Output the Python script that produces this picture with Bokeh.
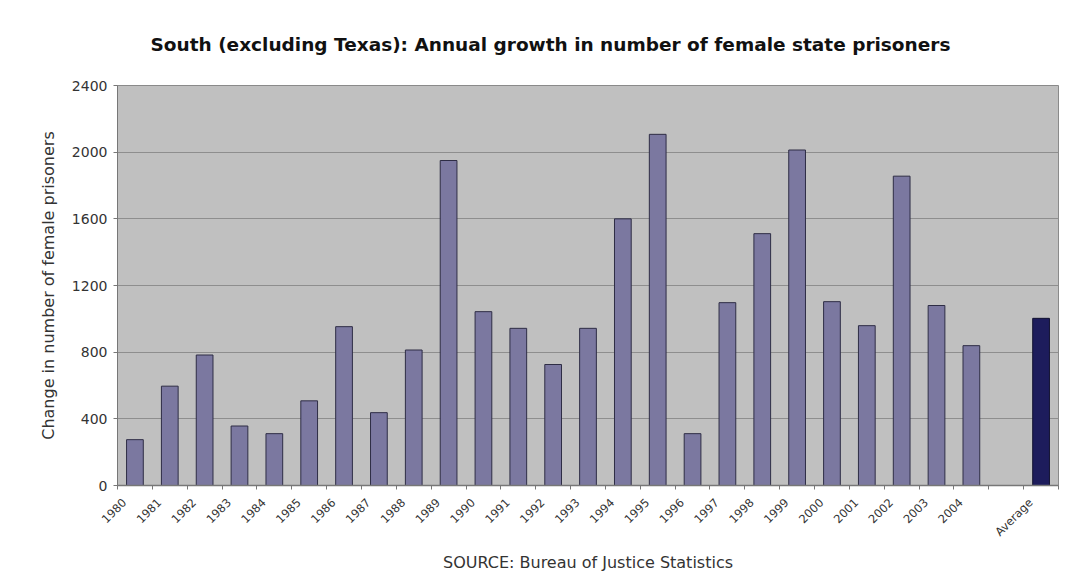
from bokeh.plotting import figure
from bokeh.models import FixedTicker, ColumnDataSource, Range1d, CustomJSTickFormatter
from bokeh.embed import file_html
from bokeh.resources import INLINE
import math

years = ["1980", "1981", "1982", "1983", "1984", "1985", "1986", "1987", "1988", "1989",
         "1990", "1991", "1992", "1993", "1994", "1995", "1996", "1997", "1998", "1999",
         "2000", "2001", "2002", "2003", "2004"]
growth = [275, 596, 783, 357, 311, 508, 953, 437, 813, 1950,
          1043, 943, 726, 943, 1600, 2107, 311, 1097, 1511, 2013,
          1103, 959, 1856, 1080, 839]
average_label = "Average"
average_value = 1003
y_ticks = [0, 400, 800, 1200, 1600, 2000, 2400]

categories = years + [""] + [average_label]
year_x = list(range(len(years)))
avg_x = [len(categories) - 1]
label_shift = 0.3  # rotated labels end slightly left of the category centre

FONT = "DejaVu Sans"

p = figure(width=1074, height=586, output_backend="svg", toolbar_location=None,
           x_range=Range1d(-0.5, len(categories) - 0.5), y_range=Range1d(0, 2400),
           min_border_left=117, min_border_right=16, min_border_top=85, min_border_bottom=101)

p.title.text = "South (excluding Texas): Annual growth in number of female state prisoners"
p.title.text_font = FONT
p.title.text_font_size = "18.5px"
p.title.text_font_style = "bold"
p.title.text_color = "#111111"
p.title.align = "left"
p.title.standoff = 61
p.title.offset = 33

p.background_fill_color = "#c0c0c0"
p.border_fill_color = "white"
p.outline_line_color = "#8a8a8a"
p.outline_line_width = 1

src = ColumnDataSource(dict(x=year_x, top=growth))
p.vbar(x="x", top="top", width=0.48, bottom=0, source=src,
       fill_color="#7b78a0", line_color="#2e2d45", line_width=1)
src2 = ColumnDataSource(dict(x=avg_x, top=[average_value]))
p.vbar(x="x", top="top", width=0.48, bottom=0, source=src2,
       fill_color="#1d1c5c", line_color="#121230", line_width=1)

# x axis
xa = p.xaxis[0]
xa.ticker = FixedTicker(ticks=[i - label_shift for i in range(len(categories))],
                        minor_ticks=[i - 0.5 for i in range(len(categories) + 1)])
xa.formatter = CustomJSTickFormatter(args=dict(labels=categories, shift=label_shift),
                                     code="const k = Math.round(tick + shift); return labels[k] || '';")
xa.major_label_orientation = math.pi / 4
xa.major_label_text_font = FONT
xa.major_label_text_font_size = "11.5px"
xa.major_label_text_color = "#333333"
xa.major_tick_line_color = None
xa.minor_tick_line_color = "#777777"
xa.minor_tick_out = 4
xa.minor_tick_in = 0
xa.axis_line_color = "#777777"
xa.axis_line_width = 1.5
xa.major_label_standoff = 9
xa.axis_label = "SOURCE: Bureau of Justice Statistics"
xa.axis_label_text_font = FONT
xa.axis_label_text_font_size = "16px"
xa.axis_label_text_font_style = "normal"
xa.axis_label_text_color = "#333333"
xa.axis_label_standoff = 6

# y axis
ya = p.yaxis[0]
ya.ticker = FixedTicker(ticks=y_ticks)
ya.minor_tick_line_color = None
ya.major_tick_out = 4
ya.major_tick_in = 0
ya.major_tick_line_color = "#777777"
ya.axis_line_color = "#777777"
ya.major_label_text_font = FONT
ya.major_label_text_font_size = "14px"
ya.major_label_text_color = "#333333"
ya.major_label_standoff = 6
ya.axis_label = "Change in number of female prisoners"
ya.axis_label_text_font = FONT
ya.axis_label_text_font_size = "16px"
ya.axis_label_text_font_style = "normal"
ya.axis_label_text_color = "#333333"
ya.axis_label_standoff = 11

p.xgrid.grid_line_color = None
p.ygrid.grid_line_color = "#8e8e8e"
p.ygrid.grid_line_width = 1

open("out.html", "w").write(file_html(p, INLINE))
